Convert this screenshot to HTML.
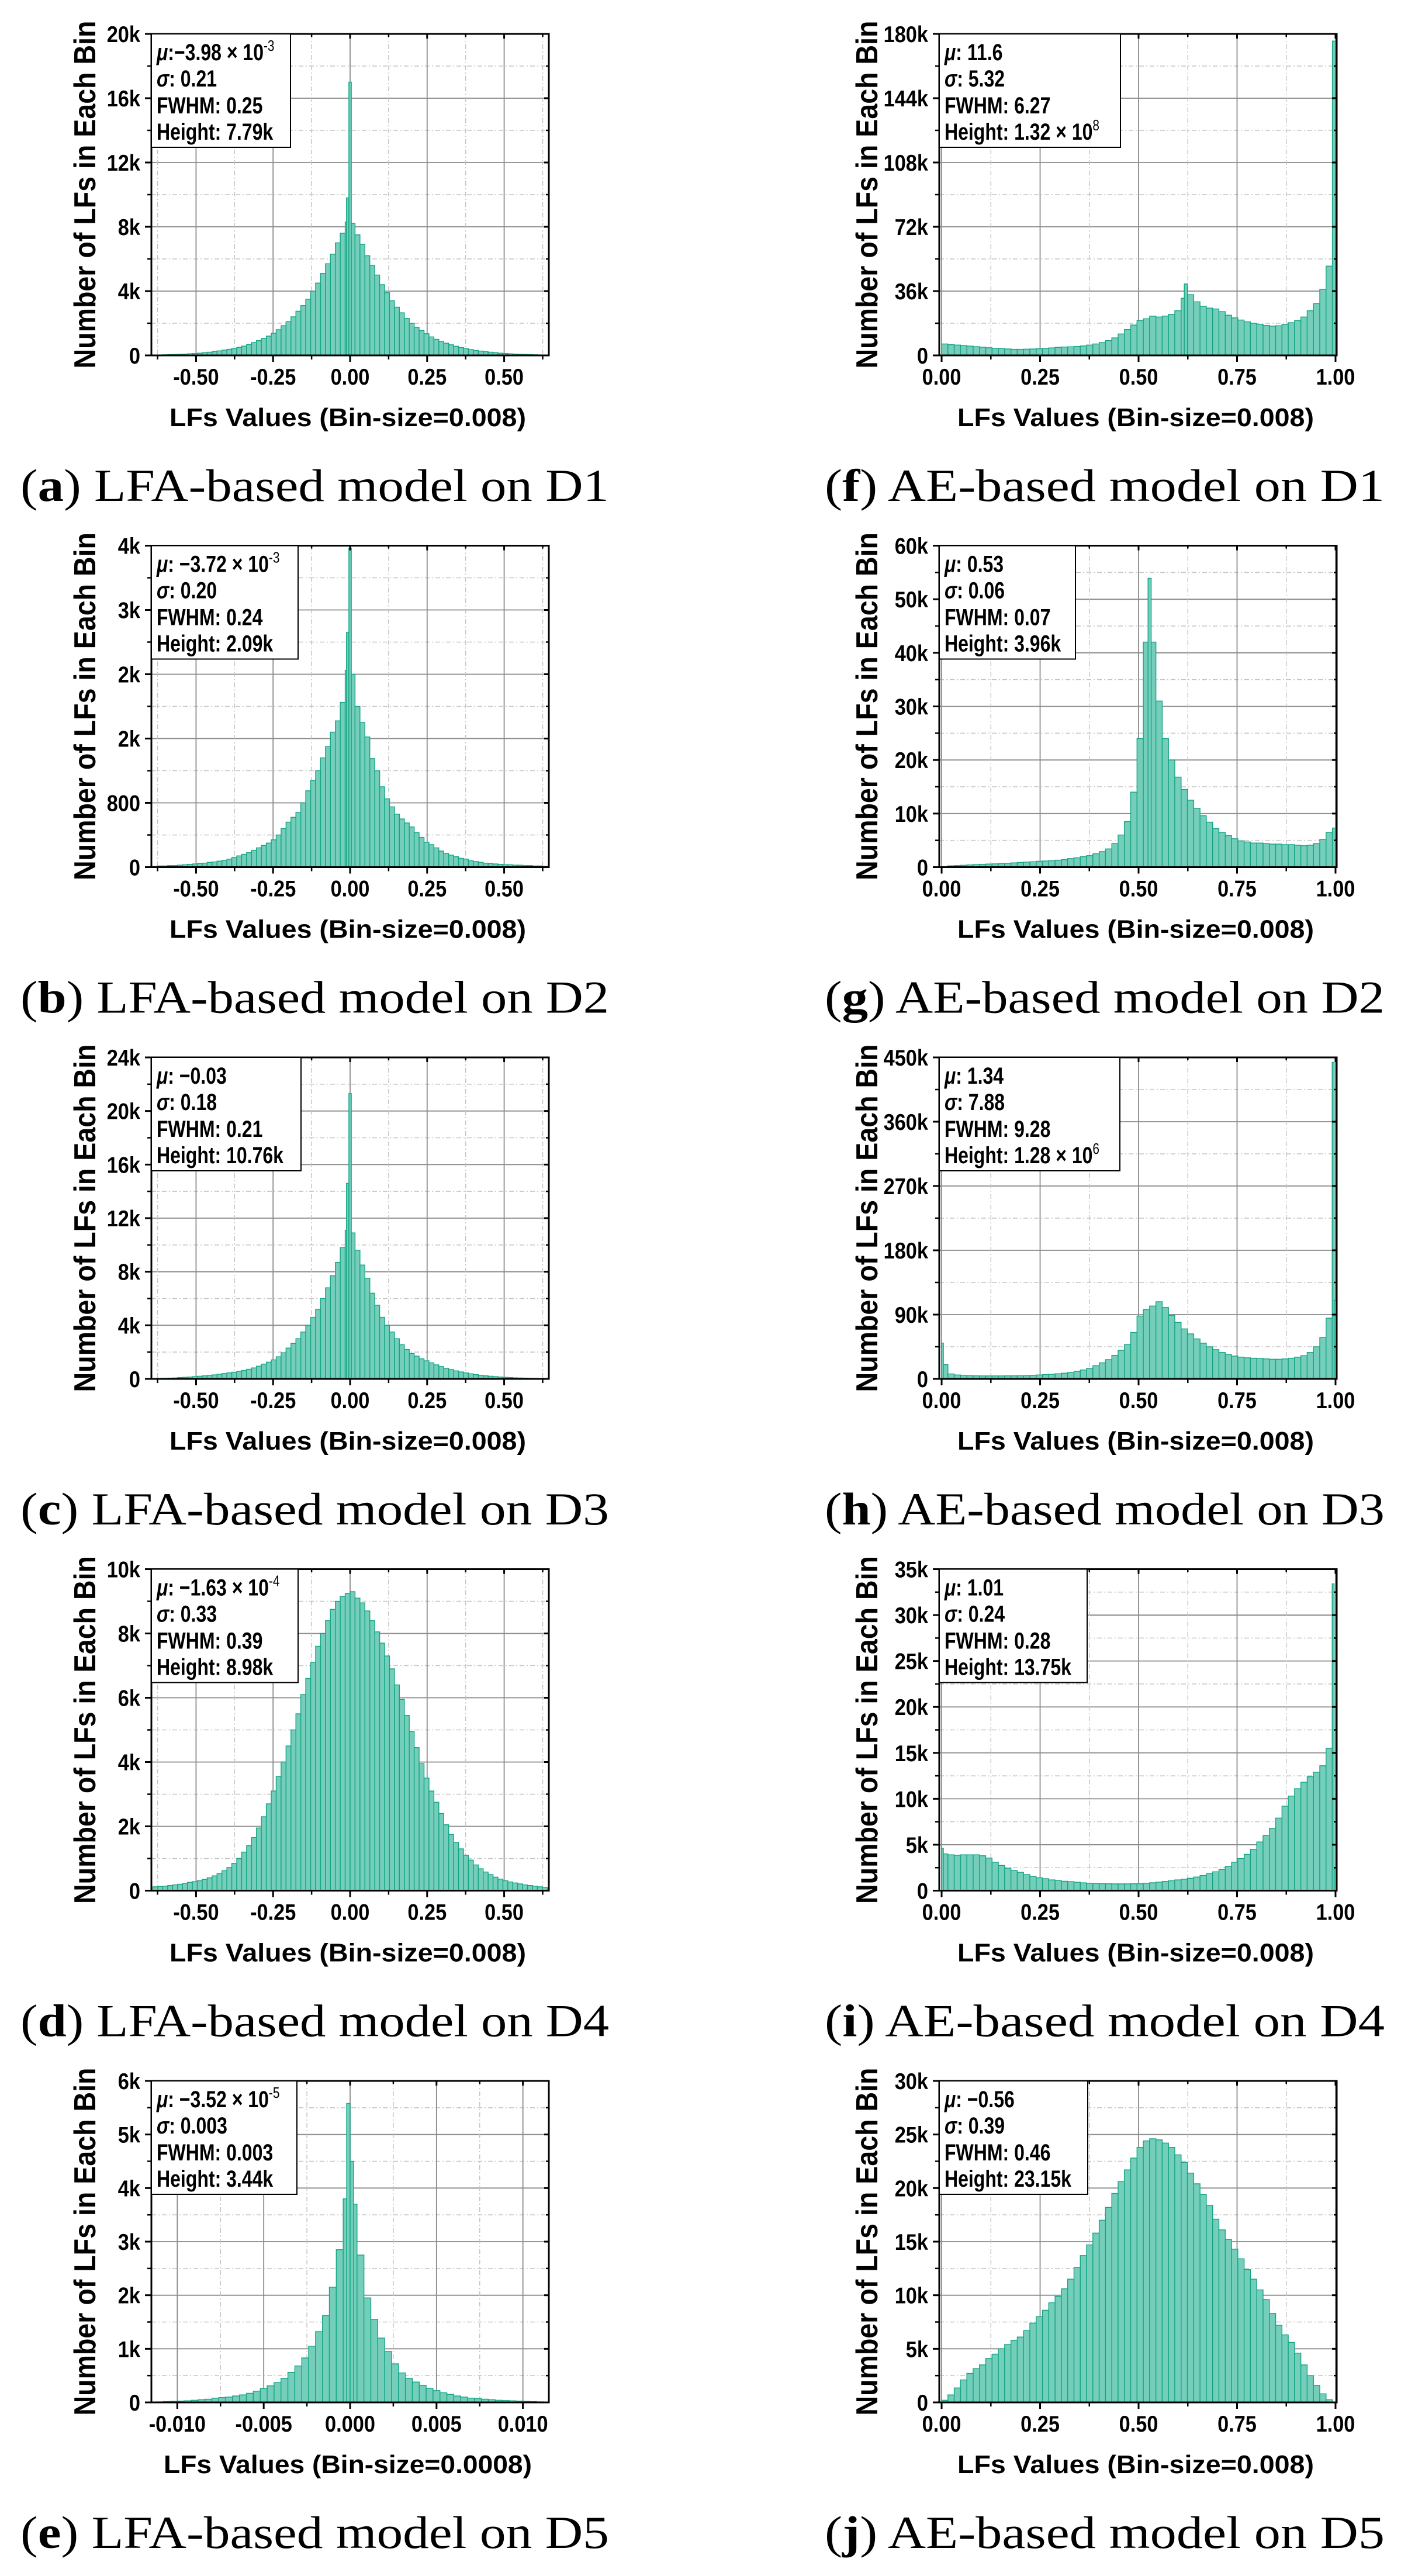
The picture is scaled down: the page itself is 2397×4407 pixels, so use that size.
<!DOCTYPE html>
<html><head><meta charset="utf-8">
<style>
html,body{margin:0;padding:0;background:#fff;}
svg{display:block;}
.tk{font-family:"Liberation Sans",Arial,sans-serif;font-weight:bold;font-size:39px;fill:#000;}
.ttl{font-family:"Liberation Sans",Arial,sans-serif;font-weight:bold;fill:#000;}
.lg{font-family:"Liberation Sans",Arial,sans-serif;font-weight:bold;font-size:40px;fill:#000;}
.cap{font-family:"Liberation Serif","Times New Roman",serif;font-size:78px;fill:#000;}
</style></head>
<body>
<svg id="chart" width="2397" height="4407" viewBox="0 0 2397 4407" xmlns="http://www.w3.org/2000/svg">
<rect width="2397" height="4407" fill="#fff"/>
</svg>
<script>
// ---------- data (counts in thousands, bin width per panel) ----------
const aVals=[.02,.03,.04,.05,.06,.07,.08,.1,.12,.14,.17,.2,.24,.28,.33,.38,.44,.5,.58,.68,.8,.92,1.06,1.2,1.38,1.6,1.85,2.1,2.4,2.75,3.1,3.5,4.0,4.5,5.1,5.7,6.3,7.0,7.6,8.3,
8.2,7.5,6.9,6.2,5.6,5.0,4.4,3.9,3.4,3.0,2.65,2.3,2.0,1.75,1.55,1.35,1.15,1.0,.88,.76,.66,.57,.49,.42,.36,.31,.27,.23,.2,.17,.14,.12,.1,.08,.07,.06,.05,.04,.03,.02];
const aSpikes=[[-0.008,9.8],[0.0,17.0]];
const bVals=[.01,.015,.015,.02,.02,.025,.03,.035,.04,.045,.05,.06,.065,.075,.085,.1,.12,.14,.16,.18,.21,.24,.27,.3,.34,.4,.48,.56,.62,.68,.8,.95,1.08,1.2,1.36,1.5,1.68,1.82,2.05,2.45,
2.4,2.0,1.8,1.62,1.35,1.2,1.0,.85,.75,.66,.6,.55,.5,.43,.37,.31,.28,.24,.2,.17,.15,.13,.11,.1,.08,.07,.06,.05,.045,.04,.035,.03,.03,.025,.025,.02,.02,.015,.015,.01];
const bSpikes=[[-0.008,2.92],[0.0,3.97]];
const cVals=[.03,.04,.05,.06,.07,.1,.12,.14,.17,.2,.23,.26,.3,.35,.4,.45,.5,.56,.63,.72,.82,.95,1.1,1.25,1.42,1.65,1.95,2.3,2.65,3.0,3.5,4.0,4.6,5.2,6.0,6.8,7.7,8.7,9.8,11.1,
10.9,9.6,8.5,7.5,6.4,5.5,4.6,4.0,3.5,3.0,2.55,2.2,1.9,1.7,1.5,1.35,1.2,1.05,.92,.8,.7,.6,.52,.45,.38,.32,.27,.23,.2,.17,.14,.12,.1,.08,.07,.06,.05,.04,.03,.03];
const cSpikes=[[-0.008,14.6],[0.0,21.3]];
const dVals=[.12,.13,.14,.16,.18,.2,.23,.26,.28,.31,.35,.4,.46,.53,.62,.72,.85,1.0,1.2,1.4,1.65,1.95,2.3,2.7,3.1,3.55,4.0,4.5,5.0,5.5,6.1,6.6,7.1,7.6,8.0,8.4,8.75,9.0,9.15,9.25,
9.3,9.1,8.95,8.7,8.4,8.05,7.7,7.3,6.9,6.4,5.95,5.45,4.95,4.45,3.95,3.5,3.1,2.75,2.4,2.05,1.75,1.5,1.3,1.1,.95,.8,.68,.58,.5,.42,.36,.31,.27,.24,.21,.18,.16,.14,.12,.1];
const dSpikes=[];
const eVals=[.01,.015,.02,.025,.03,.04,.05,.06,.08,.09,.1,.12,.14,.17,.21,.26,.31,.37,.45,.56,.68,.83,1.05,1.32,1.62,2.15,2.85,3.8,
3.7,2.75,1.95,1.55,1.2,.95,.72,.55,.45,.38,.32,.26,.22,.18,.15,.12,.1,.08,.07,.06,.05,.04,.035,.03,.025,.02,.015,.01];
const eSpikes=[[-0.0001,5.58],[0.0001,4.5]];
const fVals=[6.4,6.0,5.8,5.5,5.2,4.9,4.6,4.3,4.0,3.8,3.6,3.4,3.4,3.5,3.6,3.7,3.9,4.2,4.5,4.7,4.8,5.0,5.3,5.8,6.4,7.2,8.3,9.8,12.0,14.5,17.0,19.5,20.5,22.0,21.5,22.0,23.0,25.0,32.0,34.0,30.0,27.5,26.5,26.0,24.5,22.5,21.0,19.8,18.8,18.0,17.4,16.8,16.4,16.6,17.4,18.3,19.5,21.5,25.0,29.0,37.0,50.0];
const fSpikes=[[0.62,40],[0.996,176]];
const gVals=[.1,.25,.3,.35,.42,.48,.52,.58,.62,.66,.72,.8,.88,.95,1.0,1.1,1.15,1.2,1.3,1.4,1.6,1.75,1.95,2.15,2.5,2.9,3.4,4.4,6.0,8.5,14.0,24.0,42.0,42.0,31.0,24.0,20.0,16.8,14.5,12.5,11.0,9.6,8.4,7.2,6.5,5.9,5.3,4.9,4.7,4.5,4.5,4.4,4.3,4.3,4.2,4.2,4.1,4.0,4.1,4.4,5.2,6.5];
const gSpikes=[[0.528,53.9],[0.996,7.3]];
const hVals=[20,7.0,5.5,4.8,4.5,4.3,4.2,4.2,4.2,4.2,4.3,4.3,4.4,4.5,5.0,5.5,6.0,6.5,7.2,8.0,9.0,10.5,12.5,15.0,18.5,22.5,27.0,33.0,40.0,48.0,65.0,88.0,97.0,102.0,108.0,100.0,89.0,79.0,70.0,63.0,56.0,50.0,45.0,41.0,37.0,34.0,32.0,30.5,29.5,29.0,28.5,28.0,27.5,27.5,28.0,29.0,30.5,32.5,37.0,45.0,58.0,85.0];
const hSpikes=[[0.002,50],[0.994,443],[0.999,110]];
const iVals=[4.0,3.9,3.85,3.9,3.9,3.9,3.8,3.55,3.1,2.75,2.45,2.2,2.0,1.75,1.55,1.4,1.3,1.17,1.1,1.02,.98,.92,.85,.8,.78,.76,.75,.74,.74,.74,.75,.76,.8,.86,.93,1.0,1.08,1.17,1.25,1.35,1.48,1.65,1.85,2.05,2.3,2.65,3.1,3.5,3.95,4.5,5.3,6.0,6.8,7.9,9.2,10.3,11.1,11.8,12.4,12.9,13.6,15.5];
const iSpikes=[[0.002,4.6],[0.994,33.4],[0.999,2.4]];
const jVals=[.2,.7,1.35,2.1,2.7,3.15,3.5,4.1,4.5,5.0,5.4,5.8,6.1,6.7,7.4,8.0,8.6,9.3,9.9,10.6,11.5,12.6,13.7,14.7,15.8,17.0,18.2,19.5,20.6,21.7,22.8,23.8,24.4,24.6,24.5,24.2,23.8,23.1,22.4,21.4,20.4,19.4,18.4,17.1,16.1,15.2,14.3,13.4,12.4,11.5,10.5,9.6,8.3,7.2,6.3,5.6,4.6,3.5,2.5,1.6,.8,.25];
const jSpikes=[];

// tick labels
const lfaXLabels=["-0.50","-0.25","0.00","0.25","0.50"];
const lfaXTicks=[-0.5,-0.25,0,0.25,0.5];
const d5XLabels=["-0.010","-0.005","0.000","0.005","0.010"];
const d5XTicks=[-0.01,-0.005,0,0.005,0.01];
const aeXLabels=["0.00","0.25","0.50","0.75","1.00"];
const aeXTicks=[0,0.25,0.5,0.75,1.0];
const aYLabels=["0","4k","8k","12k","16k","20k"];
const bYLabels=["0","800","2k","2k","3k","4k"];
const cYLabels=["0","4k","8k","12k","16k","20k","24k"];
const dYLabels=["0","2k","4k","6k","8k","10k"];
const eYLabels=["0","1k","2k","3k","4k","5k","6k"];
const fYLabels=["0","36k","72k","108k","144k","180k"];
const gYLabels=["0","10k","20k","30k","40k","50k","60k"];
const hYLabels=["0","90k","180k","270k","360k","450k"];
const iYLabels=["0","5k","10k","15k","20k","25k","30k","35k"];
const jYLabels=["0","5k","10k","15k","20k","25k","30k"];

const panels=[
 {id:'a',cap:'LFA-based model on D1',vals:aVals,spikes:aSpikes,b0:-0.64,bw:0.016,sw:0.008,x0:-0.645,x1:0.645,xt:lfaXTicks,xl:lfaXLabels,ymax:20,yl:aYLabels,xtitle:'LFs Values (Bin-size=0.008)',
  mu:':\u22123.98 \u00d7 10',muSup:'-3',sg:': 0.21',fw:': 0.25',ht:': 7.79k',htSup:'',lw:238},
 {id:'b',cap:'LFA-based model on D2',vals:bVals,spikes:bSpikes,b0:-0.64,bw:0.016,sw:0.008,x0:-0.645,x1:0.645,xt:lfaXTicks,xl:lfaXLabels,ymax:4,yl:bYLabels,xtitle:'LFs Values (Bin-size=0.008)',
  mu:': \u22123.72 \u00d7 10',muSup:'-3',sg:': 0.20',fw:': 0.24',ht:': 2.09k',htSup:'',lw:251},
 {id:'c',cap:'LFA-based model on D3',vals:cVals,spikes:cSpikes,b0:-0.64,bw:0.016,sw:0.008,x0:-0.645,x1:0.645,xt:lfaXTicks,xl:lfaXLabels,ymax:24,yl:cYLabels,xtitle:'LFs Values (Bin-size=0.008)',
  mu:': \u22120.03',muSup:'',sg:': 0.18',fw:': 0.21',ht:': 10.76k',htSup:'',lw:256},
 {id:'d',cap:'LFA-based model on D4',vals:dVals,spikes:dSpikes,b0:-0.64,bw:0.016,sw:0.008,x0:-0.645,x1:0.645,xt:lfaXTicks,xl:lfaXLabels,ymax:10,yl:dYLabels,xtitle:'LFs Values (Bin-size=0.008)',
  mu:': \u22121.63 \u00d7 10',muSup:'-4',sg:': 0.33',fw:': 0.39',ht:': 8.98k',htSup:'',lw:251},
 {id:'e',cap:'LFA-based model on D5',vals:eVals,spikes:eSpikes,b0:-0.0112,bw:0.0004,sw:0.0002,x0:-0.0115,x1:0.0115,xt:d5XTicks,xl:d5XLabels,ymax:6,yl:eYLabels,xtitle:'LFs Values (Bin-size=0.0008)',
  mu:': \u22123.52 \u00d7 10',muSup:'-5',sg:': 0.003',fw:': 0.003',ht:': 3.44k',htSup:'',lw:249},
 {id:'f',cap:'AE-based model on D1',vals:fVals,spikes:fSpikes,b0:0,bw:0.016,sw:0.008,x0:-0.006,x1:1.003,xt:aeXTicks,xl:aeXLabels,ymax:180,yl:fYLabels,xtitle:'LFs Values (Bin-size=0.008)',
  mu:': 11.6',muSup:'',sg:': 5.32',fw:': 6.27',ht:': 1.32 \u00d7 10',htSup:'8',lw:310},
 {id:'g',cap:'AE-based model on D2',vals:gVals,spikes:gSpikes,b0:0,bw:0.016,sw:0.008,x0:-0.006,x1:1.003,xt:aeXTicks,xl:aeXLabels,ymax:60,yl:gYLabels,xtitle:'LFs Values (Bin-size=0.008)',
  mu:': 0.53',muSup:'',sg:': 0.06',fw:': 0.07',ht:': 3.96k',htSup:'',lw:233},
 {id:'h',cap:'AE-based model on D3',vals:hVals,spikes:hSpikes,b0:0,bw:0.016,sw:0.005,x0:-0.006,x1:1.003,xt:aeXTicks,xl:aeXLabels,ymax:450,yl:hYLabels,xtitle:'LFs Values (Bin-size=0.008)',
  mu:': 1.34',muSup:'',sg:': 7.88',fw:': 9.28',ht:': 1.28 \u00d7 10',htSup:'6',lw:309},
 {id:'i',cap:'AE-based model on D4',vals:iVals,spikes:iSpikes,b0:0,bw:0.016,sw:0.005,x0:-0.006,x1:1.003,xt:aeXTicks,xl:aeXLabels,ymax:35,yl:iYLabels,xtitle:'LFs Values (Bin-size=0.008)',
  mu:': 1.01',muSup:'',sg:': 0.24',fw:': 0.28',ht:': 13.75k',htSup:'',lw:253},
 {id:'j',cap:'AE-based model on D5',vals:jVals,spikes:jSpikes,b0:0,bw:0.016,sw:0.008,x0:-0.006,x1:1.003,xt:aeXTicks,xl:aeXLabels,ymax:30,yl:jYLabels,xtitle:'LFs Values (Bin-size=0.008)',
  mu:': \u22120.56',muSup:'',sg:': 0.39',fw:': 0.46',ht:': 23.15k',htSup:'',lw:254}
];

const NS='http://www.w3.org/2000/svg';
const svg=document.getElementById('chart');
function mk(tag,parent){const e=document.createElementNS(NS,tag);parent.appendChild(e);return e;}
function line(p,x1,y1,x2,y2,stroke,w,dash){const l=mk('line',p);l.setAttribute('x1',x1);l.setAttribute('y1',y1);l.setAttribute('x2',x2);l.setAttribute('y2',y2);l.setAttribute('stroke',stroke);l.setAttribute('stroke-width',w);if(dash)l.setAttribute('stroke-dasharray',dash);return l;}
function squeeze(t,f){const w=t.getComputedTextLength();t.setAttribute('textLength',(w*f).toFixed(1));t.setAttribute('lengthAdjust','spacingAndGlyphs');}

const defs=mk('defs',svg);
panels.forEach((p,idx)=>{
  const col=idx<5?0:1,row=idx%5;
  const L=col?1607:259,W=680,T=58+row*875.5,H=550;
  const xs=v=>L+(v-p.x0)/(p.x1-p.x0)*W;
  const ys=v=>T+H-v/p.ymax*H;
  const g=mk('g',svg);
  
  
  const cp=mk('clipPath',defs);cp.setAttribute('id','clip'+p.id);
  const cr=mk('rect',cp);cr.setAttribute('x',L);cr.setAttribute('y',T);cr.setAttribute('width',W);cr.setAttribute('height',H);
  // grid
  const grid=mk('g',g);
  
  
  const nY=p.yl.length-1,ystep=p.ymax/nY;
  for(let k=0;k<nY;k++){const y=ys((k+0.5)*ystep);line(grid,L,y,L+W,y,'#c4c4c4',1.5,'8,4,2,4');}
  for(let k=1;k<nY;k++){const y=ys(k*ystep);line(grid,L,y,L+W,y,'#8a8a8a',1.8);}
  const xd=p.xt[1]-p.xt[0];
  const minors=[];for(let v=p.xt[0]-xd/2;v<p.x1;v+=xd){if(v>p.x0)minors.push(v);}
  minors.forEach(v=>line(grid,xs(v),T,xs(v),T+H,'#c4c4c4',1.5,'8,4,2,4'));
  p.xt.forEach(v=>{if(xs(v)>L+2&&xs(v)<L+W-2)line(grid,xs(v),T,xs(v),T+H,'#8a8a8a',1.8);});
  // bars
  const bars=mk('g',g);
  
  
  bars.setAttribute('clip-path','url(#clip'+p.id+')');
  const drawBar=(x0,x1,v)=>{const r=mk('rect',bars);
    
    
    r.setAttribute('x',xs(x0).toFixed(2));r.setAttribute('y',ys(v).toFixed(2));r.setAttribute('width',Math.max(0.5,xs(x1)-xs(x0)).toFixed(2));r.setAttribute('height',Math.max(0,T+H-ys(v)).toFixed(2));
    r.setAttribute('fill','#74ceba');r.setAttribute('stroke','#14a585');r.setAttribute('stroke-width','1.4');};
  p.vals.forEach((v,k)=>drawBar(p.b0+k*p.bw,p.b0+(k+1)*p.bw,v));
  p.spikes.forEach(s=>drawBar(s[0]-p.sw/2,s[0]+p.sw/2,s[1]));
  // frame
  const fr=mk('rect',g);fr.setAttribute('x',L);fr.setAttribute('y',T);fr.setAttribute('width',W);fr.setAttribute('height',H);fr.setAttribute('fill','none');fr.setAttribute('stroke','#000');fr.setAttribute('stroke-width','3');
  
  
  // ticks
  for(let k=0;k<=nY;k++){const y=ys(k*ystep);line(g,L-11,y,L,y,'#000',3);line(g,L+W-8,y,L+W,y,'#000',3);}
  for(let k=0;k<nY;k++){const y=ys((k+0.5)*ystep);line(g,L-7,y,L,y,'#000',2.5);line(g,L+W-5,y,L+W,y,'#000',2.5);}
  p.xt.forEach(v=>{line(g,xs(v),T+H,xs(v),T+H+11,'#000',3);line(g,xs(v),T,xs(v),T+8,'#000',3);});
  minors.forEach(v=>{line(g,xs(v),T+H,xs(v),T+H+7,'#000',2.5);line(g,xs(v),T,xs(v),T+5,'#000',2.5);});
  // tick labels
  p.yl.forEach((s,k)=>{const t=mk('text',g);t.setAttribute('class','tk');t.setAttribute('x',L-19);t.setAttribute('y',ys(k*ystep)+14);t.setAttribute('text-anchor','end');t.textContent=s;
    
    
    squeeze(t,0.88);});
  p.xl.forEach((s,k)=>{const t=mk('text',g);t.setAttribute('class','tk');t.setAttribute('x',xs(p.xt[k]));t.setAttribute('y',T+H+50);t.setAttribute('text-anchor','middle');t.textContent=s;
    
    
    squeeze(t,0.88);});
  // axis titles
  const xt=mk('text',g);xt.setAttribute('class','ttl');xt.setAttribute('font-size','44');xt.setAttribute('x',L+W/2-4);xt.setAttribute('y',T+H+121);xt.setAttribute('text-anchor','middle');xt.textContent=p.xtitle;
  
  
  xt.setAttribute('textLength',p.xtitle.length>27?630:610);xt.setAttribute('lengthAdjust','spacingAndGlyphs');
  const yx=col?1501:163,yc=T+H/2;
  const yt=mk('text',g);yt.setAttribute('class','ttl');yt.setAttribute('font-size','52');yt.setAttribute('x',yx);yt.setAttribute('y',yc);yt.setAttribute('text-anchor','middle');
  yt.setAttribute('transform','rotate(-90 '+yx+' '+yc+')');yt.textContent='Number of LFs in Each Bin';
  
  
  yt.setAttribute('textLength','595');yt.setAttribute('lengthAdjust','spacingAndGlyphs');
  // legend
  const lg=mk('g',g);
  
  
  const lr=mk('rect',lg);lr.setAttribute('x',L);lr.setAttribute('y',T);lr.setAttribute('width',p.lw);lr.setAttribute('height',194);lr.setAttribute('fill','#fff');lr.setAttribute('stroke','#000');lr.setAttribute('stroke-width','2');
  const rows=[['\u03bc',p.mu,p.muSup,true],['\u03c3',p.sg,'',true],['FWHM',p.fw,'',false],['Height',p.ht,p.htSup,false]];
  const offs=[45,90,136,181];
  rows.forEach((r,k)=>{const t=mk('text',lg);t.setAttribute('class','lg');t.setAttribute('x',L+9);t.setAttribute('y',T+offs[k]);
    
    
    const a=mk('tspan',t);a.textContent=r[0];if(r[3])a.setAttribute('font-style','italic');
    const b=mk('tspan',t);b.textContent=r[1];
    if(r[2]){const s=mk('tspan',t);s.setAttribute('dy','-16');s.setAttribute('font-size','26');s.setAttribute('font-weight','normal');s.textContent=r[2];}
    squeeze(t,0.8);});
  // caption
  const c=mk('text',svg);c.setAttribute('class','cap');c.setAttribute('x',col?1411:35);c.setAttribute('y',857+row*875.5);
  
  
  const c1=mk('tspan',c);c1.textContent='(';const c2=mk('tspan',c);c2.setAttribute('font-weight','bold');c2.textContent=p.id;const c3=mk('tspan',c);c3.textContent=') '+p.cap;
  c.setAttribute('textLength',col?958:1007);c.setAttribute('lengthAdjust','spacingAndGlyphs');
});
</script>
</body></html>
